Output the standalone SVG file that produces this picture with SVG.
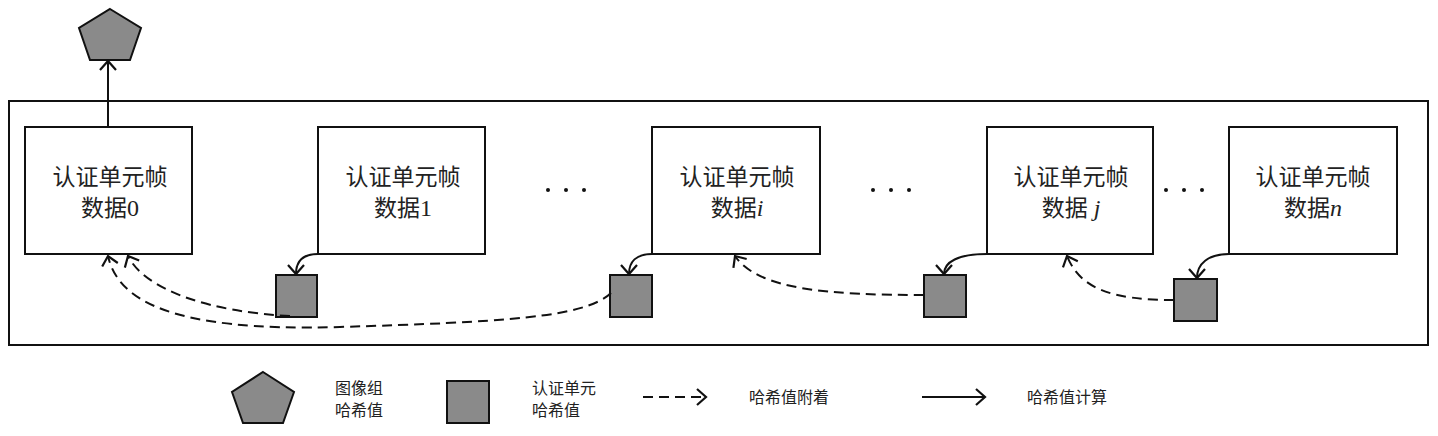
<svg xmlns="http://www.w3.org/2000/svg" width="1438" height="436" viewBox="0 0 1438 436">
<style>
.box{fill:#fff;stroke:#111;stroke-width:2}
.hash{fill:#8a8a8a;stroke:#111;stroke-width:2}
.solid{fill:none;stroke:#111;stroke-width:2}
.dash{fill:none;stroke:#111;stroke-width:2;stroke-dasharray:10,6}
.t{font-family:"Noto Sans CJK SC","Noto Sans",sans-serif;font-size:23px;fill:#222;text-anchor:middle}
.lg{font-family:"Noto Sans CJK SC","Noto Sans",sans-serif;font-size:16px;fill:#222}
.it{font-family:"Liberation Serif",serif;font-style:italic;font-size:24px}
.num{font-family:"Liberation Serif",serif;font-size:24px}
.dot{fill:#111}
</style>
<defs>
<marker id="ah" markerUnits="userSpaceOnUse" markerWidth="24" markerHeight="24" viewBox="-12 -12 14 24" refX="0" refY="0" orient="auto">
<path d="M-9,-8 L0,0 L-9,8" fill="none" stroke="#111" stroke-width="2.2"/>
</marker>
</defs>
<rect x="9" y="101" width="1419" height="244" fill="none" stroke="#111" stroke-width="2"/>
<g id="gop-hash"><polygon class="hash" points="110,9 141,28 130,60 90,60 79,28"/></g>
<g id="frame0"><rect class="box" x="25" y="127" width="167" height="127"/><text class="t" x="110" y="185">认证单元帧</text><text class="t" x="110" y="216">数据<tspan class="num">0</tspan></text></g>
<g id="frame1"><rect class="box" x="318" y="127" width="167" height="127"/><text class="t" x="403" y="185">认证单元帧</text><text class="t" x="403" y="216">数据<tspan class="num">1</tspan></text></g>
<g id="frameI"><rect class="box" x="652" y="127" width="168" height="127"/><text class="t" x="737" y="185">认证单元帧</text><text class="t" x="737" y="216">数据<tspan class="it">i</tspan></text></g>
<g id="frameJ"><rect class="box" x="987" y="127" width="166" height="127"/><text class="t" x="1071" y="185">认证单元帧</text><text class="t" x="1071" y="216">数据<tspan class="it"> j</tspan></text></g>
<g id="frameN"><rect class="box" x="1229" y="127" width="168" height="127"/><text class="t" x="1313" y="185">认证单元帧</text><text class="t" x="1313" y="216">数据<tspan class="it">n</tspan></text></g>
<g id="hash1"><rect class="hash" x="276" y="275" width="41" height="42"/></g>
<g id="hashI"><rect class="hash" x="610" y="275" width="42" height="42"/></g>
<g id="hashJ"><rect class="hash" x="924" y="275" width="42" height="42"/></g>
<g id="hashN"><rect class="hash" x="1174" y="279" width="43" height="42"/></g>
<g id="ellipses">
<circle class="dot" cx="548" cy="190" r="2"/><circle class="dot" cx="566" cy="190" r="2"/><circle class="dot" cx="584" cy="190" r="2"/>
<circle class="dot" cx="873" cy="190" r="2"/><circle class="dot" cx="891" cy="190" r="2"/><circle class="dot" cx="909" cy="190" r="2"/>
<circle class="dot" cx="1166" cy="190" r="2"/><circle class="dot" cx="1184" cy="190" r="2"/><circle class="dot" cx="1202" cy="190" r="2"/>
</g>
<g id="connectors">
<path class="solid" d="M108,127 L108,61" marker-end="url(#ah)"/>
<path class="solid" d="M318,254 C302,254 296,262 296,274" marker-end="url(#ah)"/>
<path class="solid" d="M652,254 C636,254 629,262 629,274" marker-end="url(#ah)"/>
<path class="solid" d="M987,254 C958,254 944,262 944,274" marker-end="url(#ah)"/>
<path class="solid" d="M1229,254 C1208,254 1197,264 1197,278" marker-end="url(#ah)"/>
<path class="dash" d="M290,316 C210,312 145,290 128,256" marker-end="url(#ah)"/>
<path class="dash" d="M611,293 C585,318 500,322 340,327 C170,332 118,300 108,256" marker-end="url(#ah)"/>
<path class="dash" d="M924,295 C830,295 758,290 735,256" marker-end="url(#ah)"/>
<path class="dash" d="M1174,300 C1110,300 1080,288 1067,256" marker-end="url(#ah)"/>
</g>
<g id="legend">
<polygon class="hash" points="263,372 294,392 283,423 243,423 232,392"/>
<text class="lg" x="335" y="394">图像组</text><text class="lg" x="335" y="416">哈希值</text>
<rect class="hash" x="447" y="381" width="42" height="42"/>
<text class="lg" x="532" y="394">认证单元</text><text class="lg" x="532" y="416">哈希值</text>
<path class="dash" d="M643,397 L706,397" marker-end="url(#ah)"/>
<text class="lg" x="749" y="403">哈希值附着</text>
<path class="solid" d="M922,397 L985,397" marker-end="url(#ah)"/>
<text class="lg" x="1027" y="403">哈希值计算</text>
</g>
</svg>
